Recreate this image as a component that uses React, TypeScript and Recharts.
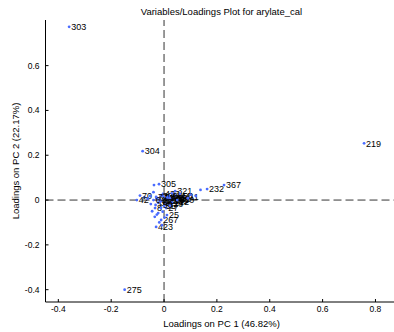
import React from 'react';
import { ScatterChart, Scatter, XAxis, YAxis, ReferenceLine } from 'recharts';

const labels = [
  '303', '219', '304', '275', '367', '', '232', '', '305', '', '70', '42', '433', '321', '411', '', '12', '8', '27', '25', '267', '423',
  '61', '63', '318', '401', '115', '329', '412', '38', '98', '344', '355', '300', '220', '17', '6', '190', '55',
  '129', '77', '402', '350', '66',
  '', '', '', '', '', '', '', '', '', '', '', '', '', '', '', '', '', '',
];
const pc1 = [
  -0.359, 0.757, -0.081, -0.149, 0.227, 0.138, 0.163, -0.038, -0.019, -0.075, -0.091, -0.103, -0.004, 0.042, 0.07, 0.12, 0.049, -0.034, 0.008, 0.011, -0.011, -0.03,
  -0.028, -0.018, -0.008, 0.004, 0.016, 0.026, 0.036, -0.022, -0.002, 0.018, 0.044, -0.012, 0.008, 0.03, -0.04, -0.032, 0.0,
  0.012, -0.03, 0.022, 0.05, -0.014,
  -0.045, -0.022, -0.035, -0.005, -0.018, 0.002, -0.05, -0.062, -0.052, 0.06, 0.09, 0.1, -0.027, -0.012, 0.022, -0.04, 0.03, -0.008,
];
const pc2 = [
  0.773, 0.253, 0.218, -0.4, 0.067, 0.045, 0.049, 0.067, 0.071, 0.012, 0.02, 0.0, 0.027, 0.04, 0.013, 0.018, -0.009, -0.036, -0.036, -0.067, -0.089, -0.12,
  0.008, 0.002, -0.004, 0.008, 0.002, -0.004, 0.006, -0.012, 0.016, 0.018, 0.02, 0.02, -0.016, -0.012, 0.0, -0.022, -0.026,
  0.012, 0.014, 0.008, 0.0, -0.008,
  -0.05, -0.058, -0.075, -0.052, -0.1, -0.078, -0.018, 0.006, 0.018, 0.028, 0.008, 0.024, -0.065, -0.035, -0.025, 0.035, 0.03, -0.112,
];
const xTicks = [-0.4, -0.2, 0, 0.2, 0.4, 0.6, 0.8];
const yTicks = [-0.4, -0.2, 0, 0.2, 0.4, 0.6];
const xDomain: [number, number] = [-0.4485, 0.8815];
const yDomain: [number, number] = [-0.455, 0.8036];

const title = 'Variables/Loadings Plot for arylate_cal';
const xTitle = 'Loadings on PC 1 (46.82%)';
const yTitle = 'Loadings on PC 2 (22.17%)';

const data = labels.map((l, i) => ({ x: pc1[i], y: pc2[i], label: l }));

const FONT = "'Liberation Sans', Arial, sans-serif";

const BottomTick = (props: any) => {
  const { x, y, payload } = props;
  return (
    <g>
      <line x1={x} x2={x} y1={y} y2={y - 3} stroke="#000" />
      <text x={x} y={y + 10} textAnchor="middle" fontSize={8.5} fontFamily={FONT} fill="#000">
        {String(payload.value)}
      </text>
    </g>
  );
};

const TopTick = (props: any) => {
  const { x, y } = props;
  return <line x1={x} x2={x} y1={y} y2={y + 3} stroke="#000" />;
};

const LeftTick = (props: any) => {
  const { x, y, payload } = props;
  return (
    <g>
      <line x1={x} x2={x + 3} y1={y} y2={y} stroke="#000" />
      <text x={x - 6} y={y} dy="0.35em" textAnchor="end" fontSize={8.5} fontFamily={FONT} fill="#000">
        {String(payload.value)}
      </text>
    </g>
  );
};

const PointShape = (props: any) => {
  const { cx, cy, payload } = props;
  return (
    <g>
      <circle cx={cx} cy={cy} r={1.4} fill="#4a6cff" />
      {payload.label ? (
        <text x={cx + 2} y={cy} dy="0.35em" fontSize={9} fontFamily={FONT} fill="#000">
          {payload.label}
        </text>
      ) : null}
    </g>
  );
};

const textStyle: React.CSSProperties = {
  position: 'absolute',
  whiteSpace: 'nowrap',
  fontFamily: FONT,
  fontSize: 9.5,
  lineHeight: '11px',
  color: '#000',
};

export default function App() {
  return (
    <div style={{ position: 'fixed', left: 0, top: 0, width: 394, height: 332, overflow: 'hidden', background: '#fff' }}>
      <ScatterChart width={410} height={332} margin={{ top: 20, right: 13, bottom: 0, left: 0 }}>
        <XAxis
          xAxisId="top"
          orientation="top"
          type="number"
          dataKey="x"
          domain={xDomain}
          ticks={xTicks}
          allowDataOverflow
          height={0}
          tickSize={0}
          tickMargin={0}
          tickLine={false}
          tick={<TopTick />}
          axisLine={{ stroke: '#000' }}
        />
        <XAxis
          type="number"
          dataKey="x"
          domain={xDomain}
          ticks={xTicks}
          allowDataOverflow
          height={30}
          tickSize={0}
          tickMargin={0}
          tickLine={false}
          tick={<BottomTick />}
          axisLine={{ stroke: '#000' }}
        />
        <YAxis
          type="number"
          dataKey="y"
          domain={yDomain}
          ticks={yTicks}
          allowDataOverflow
          width={45.5}
          tickSize={0}
          tickMargin={0}
          tickLine={false}
          tick={<LeftTick />}
          axisLine={{ stroke: '#000' }}
        />
        <ReferenceLine x={0} stroke="#333" strokeDasharray="8 4" />
        <ReferenceLine y={0} stroke="#333" strokeDasharray="8 4" />
        <Scatter data={data} isAnimationActive={false} shape={<PointShape />} />
        <Scatter xAxisId="top" data={[]} isAnimationActive={false} />
      </ScatterChart>
      <div style={{ ...textStyle, left: 221.5, top: 10.5, transform: 'translate(-50%, -50%)' }}>{title}</div>
      <div style={{ ...textStyle, left: 221.5, top: 323, transform: 'translate(-50%, -50%)' }}>{xTitle}</div>
      <div style={{ ...textStyle, left: 15, top: 161, transform: 'translate(-50%, -50%) rotate(-90deg)' }}>{yTitle}</div>
    </div>
  );
}
